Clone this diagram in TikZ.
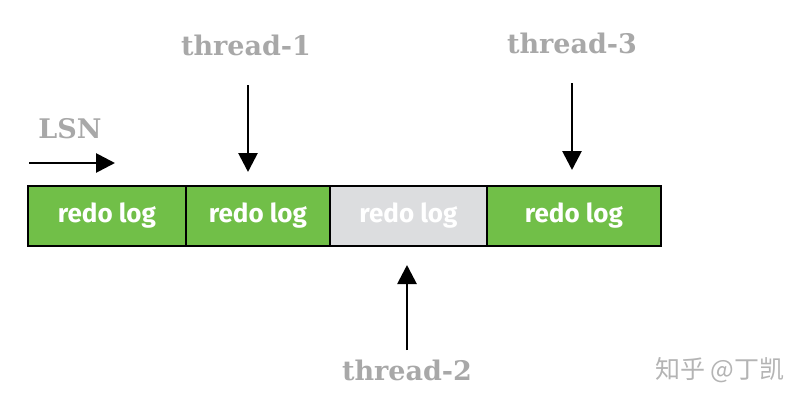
\documentclass[tikz,border=0pt]{standalone}
\usepackage{fontspec}
\setmainfont{DejaVu Serif}
\newfontfamily\boxfont{Fira Sans}
\newfontfamily\cjk{Noto Sans CJK SC}
\usetikzlibrary{arrows.meta}
\definecolor{logGreen}{HTML}{71BF48}
\definecolor{logGray}{HTML}{DCDDDF}
\definecolor{labGray}{HTML}{A8A8A8}
\definecolor{wmGray}{HTML}{B4B4B4}
\begin{document}
\begin{tikzpicture}[x=1pt,y=-1pt,
  logbox/.style={draw=black,line width=1.8pt,minimum height=60pt,inner sep=0pt,anchor=north west,
    font=\boxfont\bfseries\fontsize{26}{30}\selectfont,text=white},
  lab/.style={font=\bfseries\fontsize{27}{30}\selectfont,text=labGray},
  arr/.style={line width=2.8pt,-{Triangle[width=19pt,length=19pt]}}]
\useasboundingbox (0,0) rectangle (804,402);
\node[logbox,fill=logGreen,minimum width=158pt] (b1) at (27,185) {redo log};
\node[logbox,fill=logGreen,minimum width=144pt] (b2) at (185,185) {redo log};
\node[logbox,fill=logGray,minimum width=157pt] (b3) at (329,185) {redo log};
\node[logbox,fill=logGreen,minimum width=174pt] (b4) at (486,185) {redo log};
\node[lab] (lsn) at (70,129) {LSN};
\node[lab] (t1) at (246,45) {thread-1};
\node[lab] (t3) at (572,43) {thread-3};
\node[lab] (t2) at (407,370) {thread-2};
\node[font=\cjk\fontsize{25}{28}\selectfont,text=wmGray] (wm) at (720,370) {知乎 @丁凯};
\coordinate (l0) at (29,163);
\coordinate (l1) at (115,163);
\draw[arr] (l0) -- (l1);
\coordinate (a1) at (248,85);
\coordinate (a1e) at (248,172);
\draw[arr] (a1) -- (a1e);
\coordinate (a3) at (572,83);
\coordinate (a3e) at (572,170);
\draw[arr] (a3) -- (a3e);
\coordinate (a2) at (407,350);
\coordinate (a2e) at (407,265);
\draw[arr] (a2) -- (a2e);
\end{tikzpicture}
\end{document}
